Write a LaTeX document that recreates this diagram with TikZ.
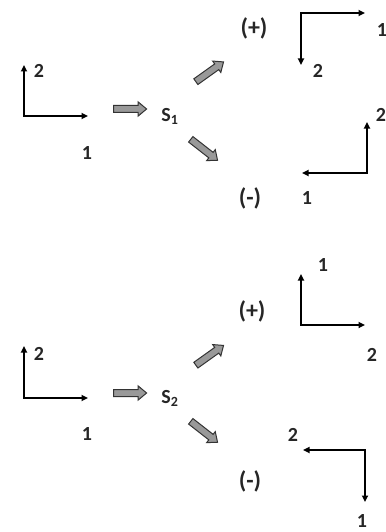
\documentclass[tikz,border=0pt]{standalone}
\usepackage{fontspec}
\setmainfont{Carlito}[BoldFont={Carlito Bold}]
\usetikzlibrary{arrows.meta,shapes.arrows}
\begin{document}
\begin{tikzpicture}[x=1pt,y=-1pt,
  ax/.style={line width=1.6pt,{Triangle[length=6.5pt,width=6pt]}-{Triangle[length=6.5pt,width=6pt]}},
  lbl/.style={font=\fontsize{20}{22}\selectfont\bfseries,inner sep=0pt,text=black!85},
  sgn/.style={font=\fontsize{24}{26}\selectfont\bfseries,inner sep=0pt,text=black!85},
  fat/.style={single arrow,draw=black!80,fill=black!40,line width=1pt,minimum height=33pt,
    inner sep=3pt,single arrow head extend=3.5pt,single arrow tip angle=80,anchor=center}]
\useasboundingbox (0,0) rectangle (385,532);
% ---------- top ----------
\coordinate (ac) at (24,116); \coordinate (av) at (24,65); \coordinate (ah) at (88,116);
\draw[ax] (av) -- (ac) -- (ah);
\node[lbl] (a2) at (39,71) {2};
\node[lbl] (a1) at (87,153) {1};
\node[fat] (fa) at (128,109) {};
\node[lbl] (s1) at (170,116) {S\textsubscript{1}};
\node[fat,rotate=35.5,minimum height=34pt] (fu) at (208,73) {};
\node[fat,rotate=-38,minimum height=34pt] (fd) at (202.5,148.5) {};
\node[sgn] (pp) at (254,28) {(+)};
\node[sgn] (mm) at (250,198) {(-)};
\coordinate (bc) at (301,13); \coordinate (bh) at (365,13); \coordinate (bv) at (301,65);
\draw[ax] (bv) -- (bc) -- (bh);
\node[lbl] (b1) at (382,30) {1};
\node[lbl] (b2) at (318,71) {2};
\coordinate (cc) at (367,173); \coordinate (cv) at (367,122); \coordinate (ch) at (302,173);
\draw[ax] (cv) -- (cc) -- (ch);
\node[lbl] (c2) at (381,115) {2};
\node[lbl] (c1) at (307,198) {1};
% ---------- bottom ----------
\coordinate (dc) at (24,398); \coordinate (dv) at (24,346); \coordinate (dh) at (88,398);
\draw[ax] (dv) -- (dc) -- (dh);
\node[lbl] (d2) at (39,354) {2};
\node[lbl] (d1) at (87,434) {1};
\node[fat] (ga) at (128,393) {};
\node[lbl] (s2) at (170,398) {S\textsubscript{2}};
\node[fat,rotate=35.5,minimum height=34pt] (gu) at (208,356.5) {};
\node[fat,rotate=-38,minimum height=34pt] (gd) at (202.5,430.5) {};
\node[sgn] (qp) at (252,311) {(+)};
\node[sgn] (qm) at (250,481) {(-)};
\coordinate (ec) at (301,325); \coordinate (ev) at (301,274); \coordinate (eh) at (365,325);
\draw[ax] (ev) -- (ec) -- (eh);
\node[lbl] (e1) at (323,265) {1};
\node[lbl] (e2) at (372,355) {2};
\coordinate (fc) at (365,450); \coordinate (fh) at (303,450); \coordinate (fv) at (365,502);
\draw[ax] (fh) -- (fc) -- (fv);
\node[lbl] (f2) at (293,435) {2};
\node[lbl] (f1) at (362,521) {1};
\end{tikzpicture}
\end{document}
